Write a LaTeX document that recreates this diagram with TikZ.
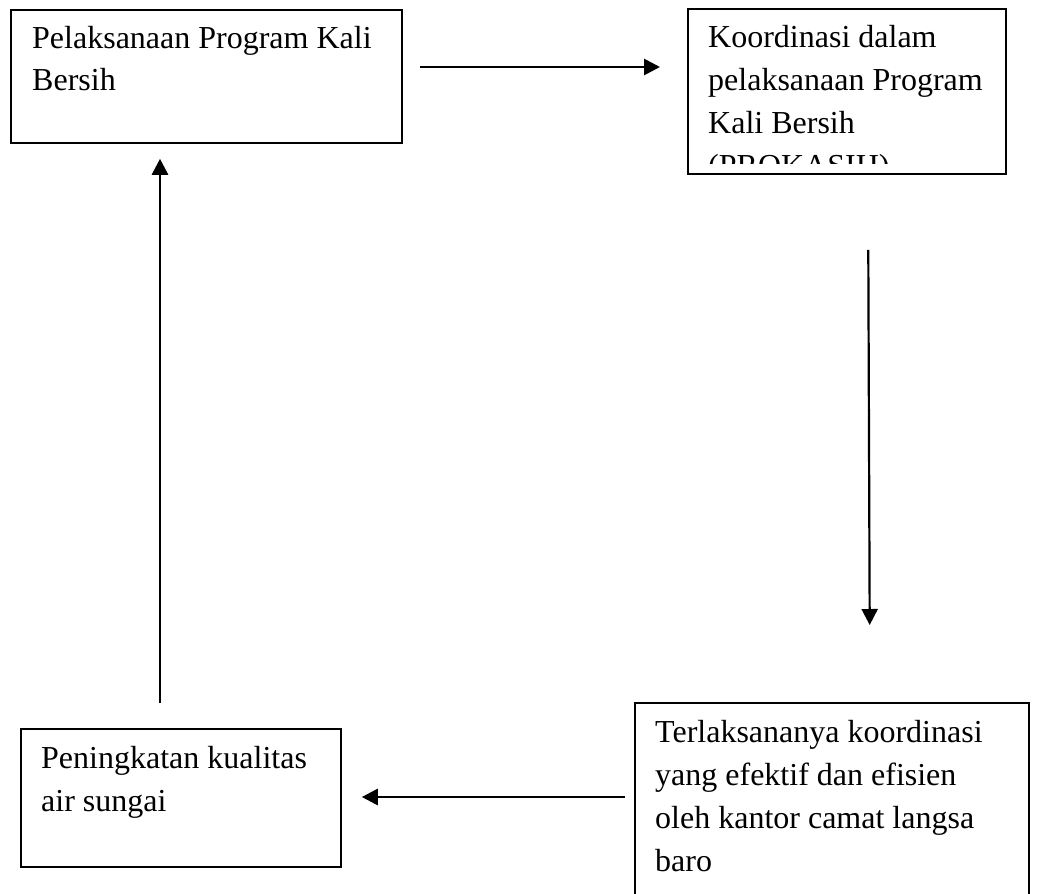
\documentclass[tikz,border=0pt]{standalone}
\usepackage{fontspec}
\setmainfont{Liberation Serif}
\usetikzlibrary{arrows.meta}

% lines of a box text, first baseline at the node's base
\newcommand\baris[1]{\begin{tabular}[t]{@{}l@{}}#1\end{tabular}}

\tikzset{
  kotak/.style={draw, line width=1.8pt, inner sep=0pt, anchor=north west},
  teks/.style={anchor=base west, inner sep=0pt,
               font=\fontsize{32}{43}\selectfont},
  panah/.style={-{Triangle[length=16pt,width=16pt]}, line width=2.8pt},
}

\begin{document}
\begin{tikzpicture}[x=1pt,y=-1pt]
\useasboundingbox (0,0) rectangle (1044,894);
\clip (0,0) rectangle (1044,894);

% boxes
\node[kotak, minimum width=391pt, minimum height=133pt] (prog)  at (10,9)   {};
\node[kotak, minimum width=318pt, minimum height=165pt] (koord) at (687,8)  {};
\node[kotak, minimum width=394pt, minimum height=220pt] (hasil) at (634,702) {};
\node[kotak, minimum width=320pt, minimum height=138pt] (mutu)  at (20,728)  {};

% texts
\node[teks] (progtxt) at (32,48)  {\baris{Pelaksanaan Program Kali\\Bersih}};
\begin{scope}
  \clip (687,8) rectangle (1005,163);
  \node[teks] (koordtxt) at (708,47)
    {\baris{Koordinasi dalam\\pelaksanaan Program\\Kali Bersih\\(PROKASIH)}};
\end{scope}
\node[teks] (hasiltxt) at (655,742)
  {\baris{Terlaksananya koordinasi\\yang efektif dan efisien\\oleh kantor camat langsa\\baro}};
\node[teks] (mututxt) at (41,768) {\baris{Peningkatan kualitas\\air sungai}};

% arrows
\draw[panah, shorten <=17pt, shorten >=27pt]
    (prog.east   |- 0,67)  -- (koord.west  |- 0,67);
\draw[panah, line width=2.2pt, shorten <=75pt, shorten >=77pt]
    (koord.south -| 868,0) -- (hasil.north -| 870,0);
\draw[panah, shorten <=9pt,  shorten >=20pt]
    (hasil.west  |- 0,797) -- (mutu.east   |- 0,797);
\draw[panah, shorten <=25pt, shorten >=15pt]
    (mutu.north  -| 160,0) -- (prog.south  -| 160,0);
\end{tikzpicture}
\end{document}
